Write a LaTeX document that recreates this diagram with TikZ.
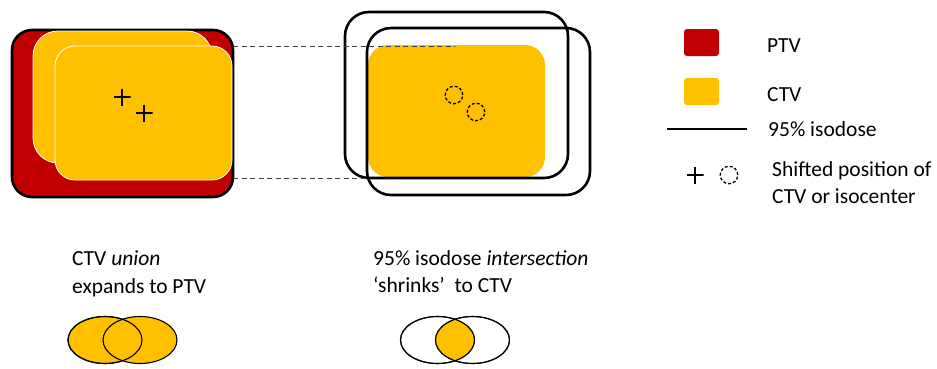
\documentclass[tikz,border=0pt]{standalone}
\usepackage{fontspec}
\setmainfont{Carlito}
\usetikzlibrary{shapes.geometric}
\definecolor{ptvred}{HTML}{C00000}
\definecolor{ctvgold}{HTML}{FFC000}
\tikzset{
  box/.style={rectangle, inner sep=0pt, outer sep=0pt},
  ptvbox/.style={box, fill=ptvred, draw=black, line width=2.6pt, rounded corners=20pt},
  ctvbox/.style={box, fill=ctvgold, draw=white, line width=0.8pt, rounded corners=#1},
  ctvbox/.default=20pt,
  isobox/.style={box, draw=black, line width=2.6pt, rounded corners=24pt},
  guide/.style={draw=black!75, line width=0.9pt, dash pattern=on 5pt off 3.5pt},
  plusmark/.style={box, minimum size=17pt, path picture={
      \draw[line width=1.4pt] (path picture bounding box.north) -- (path picture bounding box.south)
        (path picture bounding box.west) -- (path picture bounding box.east);}},
  dcirc/.style={circle, draw=black, line width=1.3pt, dash pattern=on 3pt off 2pt, minimum size=17.5pt, inner sep=0pt},
  lbl/.style={anchor=base west, inner sep=0pt, font=\fontsize{21.5}{26}\selectfont},
  venn/.style={ellipse, draw=black, line width=1.1pt, minimum width=74pt, minimum height=47pt, inner sep=0pt},
}
\begin{document}
\begin{tikzpicture}[x=1pt,y=-1pt]
\useasboundingbox (0,0) rectangle (937,368);
% left figure
\node[ptvbox, minimum width=221pt, minimum height=167pt] (ptv) at (122.5,113.5) {};
\node[ctvbox=25pt, minimum width=179pt, minimum height=132pt] (ctva) at (122.5,97) {};
\node[ctvbox, minimum width=177pt, minimum height=134pt] (ctvb) at (143.5,113) {};
\node[plusmark] (pa) at (122,97) {};
\node[plusmark] (pb) at (144,113) {};
% middle figure
\node[box, fill=ctvgold, rounded corners=20pt, minimum width=177pt, minimum height=132pt] (ctvm) at (456.5,111) {};
\node[isobox, minimum width=223pt, minimum height=166pt] (isoa) at (456.5,95) {};
\node[isobox, minimum width=223pt, minimum height=167pt] (isob) at (478.5,111.5) {};
\node[dcirc] (ca) at (454,95) {};
\node[dcirc] (cb) at (476,112) {};
% dashed guides
\coordinate (gt1) at (ptv.east |- 0,46);
\coordinate (gt2) at (455,46);
\coordinate (gb1) at (ptv.east |- 0,178);
\coordinate (gb2) at (ctvm.west |- 0,178);
\draw[guide] (gt1) -- (gt2);
\draw[guide] (gb1) -- (gb2);
% legend
\node[box, fill=ptvred, rounded corners=3pt, minimum width=35pt, minimum height=27pt] (lptv) at (701.5,42.5) {};
\node[box, fill=ctvgold, rounded corners=3pt, minimum width=35pt, minimum height=27pt] (lctv) at (701.5,91.5) {};
\coordinate (lla) at (667,129);
\coordinate (llb) at (747,129);
\draw[line width=2.4pt] (lla) -- (llb);
\node[plusmark] (lplus) at (695,175) {};
\node[dcirc] (lcirc) at (729,175) {};
\node[lbl] (tptv) at (767,52.3) {PTV};
\node[lbl] (tctv) at (767,101.7) {CTV};
\node[lbl] (tiso) at (768,136.7) {95\% isodose};
\node[lbl] (tsh1) at (772,176.7) {Shifted position of};
\node[lbl] (tsh2) at (772,203.3) {CTV or isocenter};
% bottom captions
\node[lbl] (tu1) at (72,265) {CTV \textit{union}};
\node[lbl] (tu2) at (72,293) {expands to PTV};
\node[lbl] (ti1) at (373,265) {95\% isodose \textit{intersection}};
\node[lbl] (ti2) at (373,292) {‘shrinks’\ \ to CTV};
% union venn
\node[venn, fill=ctvgold] (ua) at (105,340) {};
\node[venn, fill=ctvgold] (ub) at (140,340) {};
\draw[line width=1.1pt] (ua.center) ellipse[x radius=37pt, y radius=23.5pt];
% intersection venn
\node[venn] (ia) at (437.5,340) {};
\node[venn] (ib) at (472.5,340) {};
\begin{scope}
\clip (ia.center) ellipse[x radius=37pt, y radius=23.5pt];
\fill[ctvgold] (ib.center) ellipse[x radius=37pt, y radius=23.5pt];
\end{scope}
\draw[line width=1.1pt] (ia.center) ellipse[x radius=37pt, y radius=23.5pt];
\draw[line width=1.1pt] (ib.center) ellipse[x radius=37pt, y radius=23.5pt];
\end{tikzpicture}
\end{document}
